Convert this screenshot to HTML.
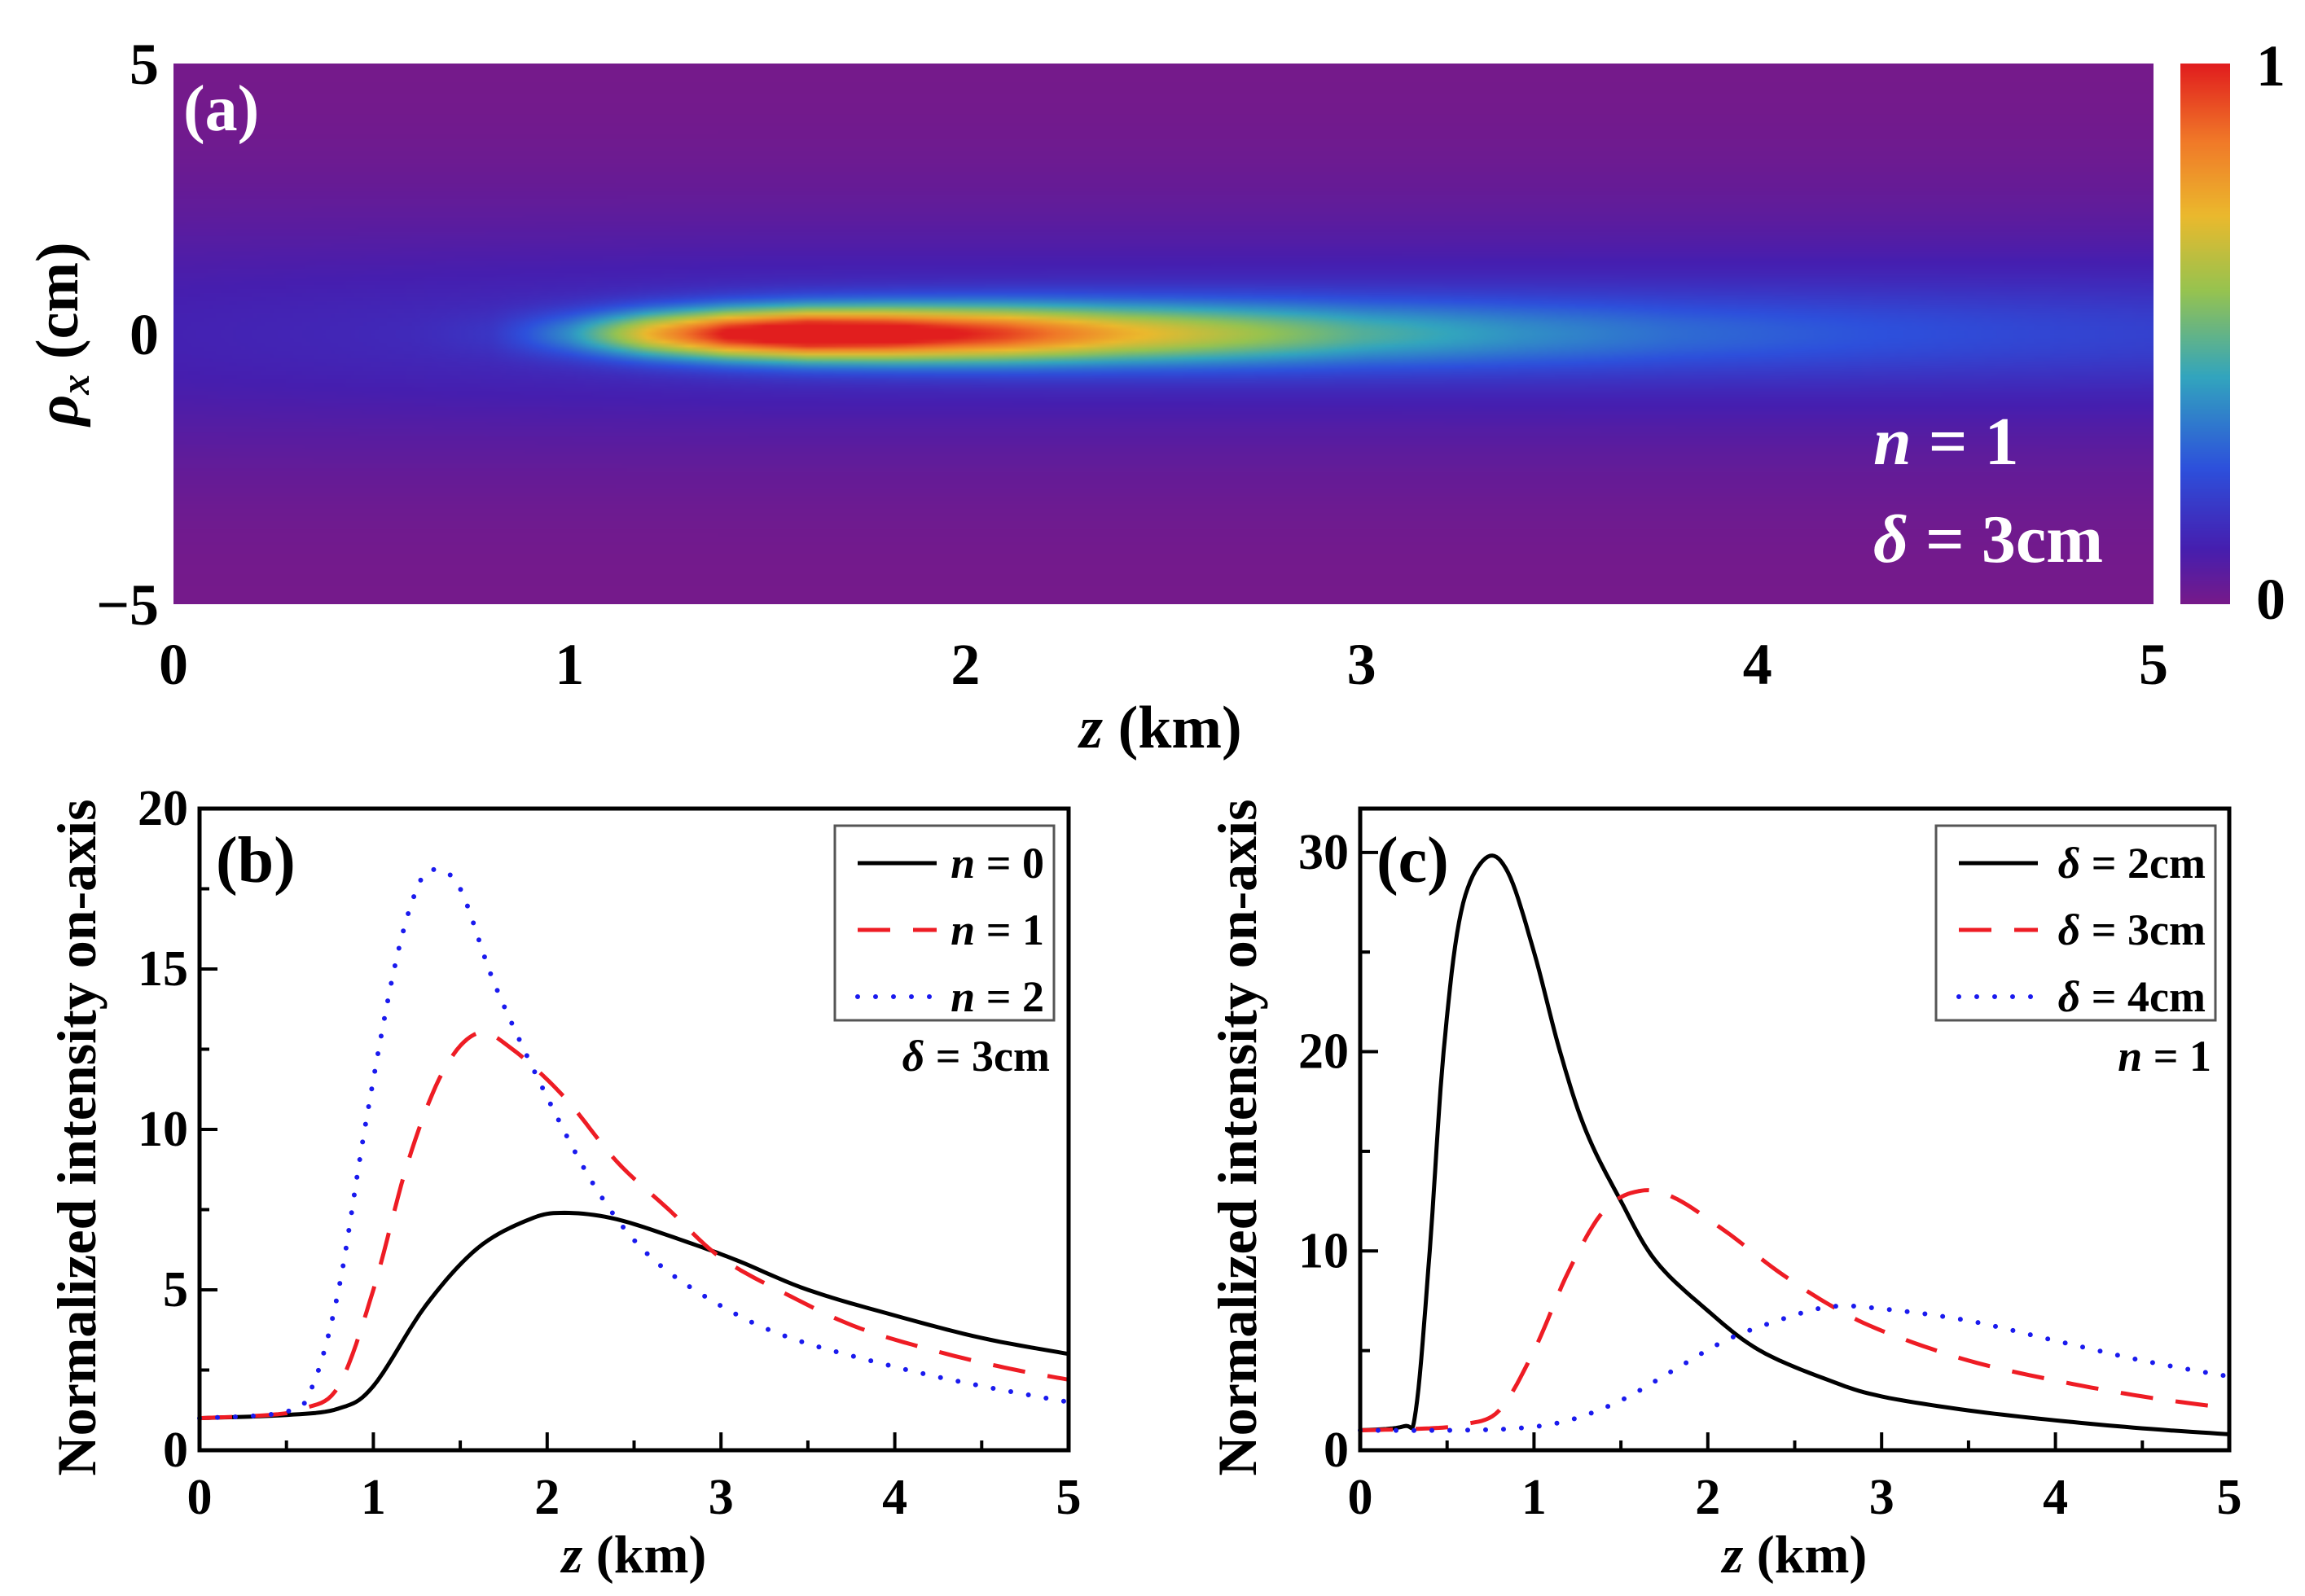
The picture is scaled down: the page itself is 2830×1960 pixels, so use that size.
<!DOCTYPE html>
<html><head><meta charset="utf-8">
<style>
html,body{margin:0;padding:0;background:#fff;width:2830px;height:1960px;overflow:hidden}
#root{position:relative;width:2830px;height:1960px}
svg text{font-family:"Liberation Serif",serif;font-weight:bold}
#heat{position:absolute;left:213px;top:78px;width:2431px;height:664px}
#cbar{position:absolute;left:2677px;top:78px;width:61px;height:664px}
</style></head><body>
<div id="root">
<canvas id="heat" width="486" height="133"></canvas>
<canvas id="cbar" width="4" height="200"></canvas>
<svg id="svg" width="2830" height="1960" style="position:absolute;left:0;top:0"></svg>
</div>
<script>
// Panel (b) data
const zB0=[0,0.5,0.8,1.0,1.3,1.6,1.9,2.1,2.4,2.8,3.1,3.5,4.0,4.5,5.0];
const vB0=[1.0,1.1,1.3,2.0,4.5,6.3,7.2,7.4,7.2,6.5,5.9,5.0,4.2,3.5,3.0];
const zB1=[0,0.4,0.6,0.8,1.0,1.2,1.4,1.6,1.8,2.1,2.4,2.7,3.0,3.4,3.8,4.3,4.7,5.0];
const vB1=[1.0,1.1,1.3,2.0,5.0,9.0,11.8,13.0,12.5,11.0,9.0,7.5,6.0,4.8,3.8,3.0,2.5,2.2];
const zB2=[0,0.5,0.65,0.8,0.95,1.12,1.25,1.35,1.5,1.7,2.0,2.3,2.6,3.0,3.4,4.0,4.5,5.0];
const vB2=[1.0,1.2,2.0,5.0,10.0,15.0,17.5,18.1,17.5,14.5,11.0,8.0,6.0,4.5,3.5,2.6,2.0,1.5];
// Panel (c) data
const zC2=[0,0.25,0.32,0.4,0.48,0.58,0.72,0.85,1.0,1.15,1.3,1.5,1.7,2.0,2.3,2.7,3.0,3.5,4.0,4.5,5.0];
const vC2=[1.0,1.2,2.0,10.0,20.0,27.0,29.7,29.0,25.0,20.0,16.0,12.5,9.5,7.0,5.0,3.5,2.7,2.0,1.5,1.1,0.8];
const zC3=[0,0.4,0.6,0.8,1.0,1.2,1.4,1.6,1.8,2.1,2.4,2.7,3.0,3.5,4.0,4.5,5.0];
const vC3=[1.0,1.1,1.3,2.0,5.0,9.0,12.0,13.0,12.7,11.0,9.0,7.3,6.0,4.5,3.5,2.7,2.1];
const zC4=[0,0.5,0.9,1.2,1.5,1.8,2.1,2.4,2.7,3.0,3.5,4.0,4.5,5.0];
const vC4=[1.0,1.0,1.1,1.5,2.5,4.0,5.5,6.5,7.2,7.1,6.5,5.5,4.5,3.7];
const xTicks=[0,1,2,3,4,5];
const yTicksB=[0,5,10,15,20];
const yTicksC=[0,10,20,30];
const yTicksA=[-5,0,5];

const NS="http://www.w3.org/2000/svg";
const svg=document.getElementById('svg');
function el(tag,attrs,parent,txt){const e=document.createElementNS(NS,tag);for(const k in attrs)e.setAttribute(k,attrs[k]);if(txt!==undefined)e.textContent=txt;(parent||svg).appendChild(e);return e;}
function smooth(zs,vs){
  const out=[];for(let i=0;i<zs.length-1;i++){const p0=i>0?i-1:i,p3=i+2<zs.length?i+2:i+1;
    for(let t=0;t<1;t+=0.1){const t2=t*t,t3=t2*t;
      const f=(a,b,c,d)=>0.5*((2*b)+(-a+c)*t+(2*a-5*b+4*c-d)*t2+(-a+3*b-3*c+d)*t3);
      out.push([f(zs[p0],zs[i],zs[i+1],zs[p3]),f(vs[p0],vs[i],vs[i+1],vs[p3])]);}}
  out.push([zs[zs.length-1],vs[vs.length-1]]);return out;}

function panel(o){
  const g=el('g',{},svg);
  const X=v=>o.l+(o.r-o.l)*v/5, Y=v=>o.b-(o.b-o.t)*v/o.ymax;
  for(let v=0;v<=5.001;v+=0.5){const big=Math.abs(v-Math.round(v))<1e-6;
    el('line',{x1:X(v),x2:X(v),y1:o.b,y2:o.b-(big?22:12),stroke:'#000','stroke-width':4},g);}
  for(let v=0;v<=o.ymax+1e-6;v+=o.minor){const big=Math.abs(v/o.major-Math.round(v/o.major))<1e-6;
    el('line',{x1:o.l,x2:o.l+(big?22:12),y1:Y(v),y2:Y(v),stroke:'#000','stroke-width':4},g);}
  xTicks.forEach(v=>{const t=el('text',{x:X(v),y:o.b+78,'font-size':62,'text-anchor':'middle'},g,v);});
  o.yt.forEach(v=>{const t=el('text',{x:o.l-14,y:Y(v)+20,'font-size':62,'text-anchor':'end'},g,v);});
  o.series.forEach(s=>{const pts=smooth(s.z,s.v).map(p=>X(p[0]).toFixed(1)+','+Y(p[1]).toFixed(1)).join(' ');
    const pl=el('polyline',{points:pts,fill:'none',stroke:s.c,'stroke-width':s.w,'stroke-dasharray':s.d,'stroke-linecap':s.cap||'butt','stroke-linejoin':'round'},g);
    });
  const fr=el('rect',{x:o.l,y:o.t,width:o.r-o.l,height:o.b-o.t,fill:'none',stroke:'#000','stroke-width':5},g);
  
  const lg=el('g',{},g);
  el('rect',{x:o.lgx,y:o.t+21,width:o.lgw,height:239,fill:'#fff',stroke:'#555','stroke-width':3},lg);
  o.series.forEach((s,i)=>{const yy=o.t+67+i*82;
    const e=el('g',{},lg);
    el('line',{x1:o.lgx+28,x2:o.lgx+125,y1:yy,y2:yy,stroke:s.c,'stroke-width':s.w,'stroke-dasharray':s.d,'stroke-linecap':s.cap||'butt'},e);
    const t=el('text',{x:o.lgx+o.lgw-12,y:yy+18,'font-size':54,'text-anchor':'end'},e);
    t.innerHTML=s.label;});
  const nt=el('text',{x:o.lgx+o.lgw-5,y:o.t+322,'font-size':54,'text-anchor':'end'},g);nt.innerHTML=o.note;
  
  const lab=el('text',{x:o.l+20,y:o.t+90,'font-size':80},g,o.tag);
  const xl=el('text',{x:(o.l+o.r)/2,y:o.b+150,'font-size':66,'text-anchor':'middle'},g);xl.innerHTML='<tspan font-style="italic">z</tspan> (km)';
  
  const yl=el('text',{x:0,y:0,'font-size':68,'text-anchor':'middle',transform:`translate(${o.l-128},${(o.t+o.b)/2+10}) rotate(-90)`},g,'Normalized intensity on-axis');
  
}
panel({name:'panel-b',l:245,r:1312,t:993,b:1781,ymax:20,major:5,minor:2.5,yt:yTicksB,tag:'(b)',lgx:1025,lgw:269,
  note:'<tspan font-style="italic">δ</tspan> = 3cm',
  series:[{z:zB0,v:vB0,c:'#000',w:5,d:'none',name:'series-n0',label:'<tspan font-style="italic">n</tspan> = 0'},
          {z:zB1,v:vB1,c:'#ee1c24',w:5,d:'40,28',name:'series-n1',label:'<tspan font-style="italic">n</tspan> = 1'},
          {z:zB2,v:vB2,c:'#1a1aee',w:6,d:'0,22',cap:'round',name:'series-n2',label:'<tspan font-style="italic">n</tspan> = 2'}]});
panel({name:'panel-c',l:1670,r:2737,t:993,b:1781,ymax:32.2,major:10,minor:5,yt:yTicksC,tag:'(c)',lgx:2377,lgw:343,
  note:'<tspan font-style="italic">n</tspan> = 1',
  series:[{z:zC2,v:vC2,c:'#000',w:5,d:'none',name:'series-delta2',label:'<tspan font-style="italic">δ</tspan> = 2cm'},
          {z:zC3,v:vC3,c:'#ee1c24',w:5,d:'40,28',name:'series-delta3',label:'<tspan font-style="italic">δ</tspan> = 3cm'},
          {z:zC4,v:vC4,c:'#1a1aee',w:6,d:'0,22',cap:'round',name:'series-delta4',label:'<tspan font-style="italic">δ</tspan> = 4cm'}]});

const cmapStops=[[0,[118,26,138]],[0.1,[70,30,175]],[0.25,[45,80,220]],[0.42,[50,165,190]],[0.58,[150,195,80]],[0.72,[235,185,45]],[0.86,[240,120,40]],[1,[225,30,30]]];
function cmap(v){v=Math.max(0,Math.min(1,v));for(let i=1;i<cmapStops.length;i++){if(v<=cmapStops[i][0]){const a=cmapStops[i-1],b=cmapStops[i],t=(v-a[0])/(b[0]-a[0]);return a[1].map((c,k)=>Math.round(c+(b[1][k]-c)*t));}}return cmapStops[cmapStops.length-1][1];}
function interp(zs,vs,z){for(let i=1;i<zs.length;i++)if(z<=zs[i]){const t=(z-zs[i-1])/(zs[i]-zs[i-1]);return vs[i-1]+(vs[i]-vs[i-1])*t;}return vs[vs.length-1];}
(function(){const c=document.getElementById('heat'),ctx=c.getContext('2d'),W=c.width,H=c.height,img=ctx.createImageData(W,H);
  const peak=Math.max(...vB1);
  for(let j=0;j<H;j++){const rho=5-10*(j+0.5)/H;
    for(let i=0;i<W;i++){const z=5*(i+0.5)/W;
      let A=Math.max(0,(interp(zB1,vB1,z)-1.1))/(peak-1.1);
      A=Math.pow(A,1.3);
      const w=0.32+0.1*z;
      let v=A*Math.exp(-rho*rho/(w*w))+0.11*Math.exp(-rho*rho/6)+0.05*Math.min(1,z/1.5)*Math.exp(-rho*rho/1.5);
      v=Math.min(v,1);
      const col=cmap(v),k=(j*W+i)*4;img.data[k]=col[0];img.data[k+1]=col[1];img.data[k+2]=col[2];img.data[k+3]=255;}}
  ctx.putImageData(img,0,0);
  const cb=document.getElementById('cbar'),cx=cb.getContext('2d');for(let j=0;j<200;j++){const col=cmap(1-j/199);cx.fillStyle=`rgb(${col})`;cx.fillRect(0,j,4,1);}
})();
(function(){const l=213,r=2644,t=78,b=742;const g=el('g',{});
  xTicks.forEach(v=>{const tx=el('text',{x:l+(r-l)*v/5,y:840,'font-size':72,'text-anchor':'middle'},g,v);});
  yTicksA.forEach(v=>{const y=b-(b-t)*(v+5)/10;const tx=el('text',{x:195,y:y+25,'font-size':72,'text-anchor':'end'},g,v<0?'−5':v);});
  const xl=el('text',{x:1425,y:918,'font-size':74,'text-anchor':'middle'},g);xl.innerHTML='<tspan font-style="italic">z</tspan> (km)';
  const yl=el('text',{x:0,y:0,'font-size':74,'text-anchor':'middle',transform:'translate(95,410) rotate(-90)'},g);yl.innerHTML='<tspan font-style="italic">ρ</tspan><tspan font-style="italic" font-size="50" dy="14">x</tspan><tspan dy="-14"> (cm)</tspan>';
  
  const lab=el('text',{x:225,y:160,'font-size':80,fill:'#fff'},g,'(a)');
  const n1=el('text',{x:2300,y:570,'font-size':84,fill:'#fff'},g);n1.innerHTML='<tspan font-style="italic">n</tspan> = 1';
  const d3=el('text',{x:2300,y:690,'font-size':84,fill:'#fff'},g);d3.innerHTML='<tspan font-style="italic">δ</tspan> = 3cm';
  const c1=el('text',{x:2770,y:105,'font-size':72},g,'1');
  const c0=el('text',{x:2770,y:760,'font-size':72},g,'0');
})();
</script>
</body></html>
